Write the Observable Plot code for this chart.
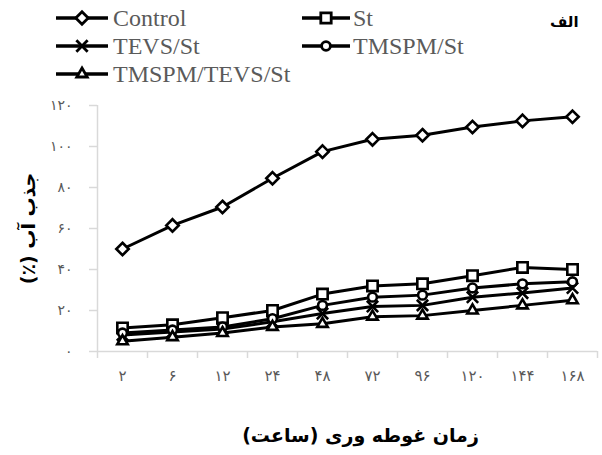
<!DOCTYPE html>
<html><head><meta charset="utf-8">
<script src="https://cdn.jsdelivr.net/npm/d3@7"></script>
<script src="https://cdn.jsdelivr.net/npm/@observablehq/plot@0.6"></script>
<style>
body{margin:0;background:#fff;}
#wrap{position:relative;width:602px;height:455px;overflow:hidden;}
#legend{position:relative;width:602px;height:90px;}
.ltxt{position:absolute;font-family:"Liberation Serif",serif;font-size:24px;color:#5a5a5a;line-height:1;white-space:nowrap;}
.lsym{position:absolute;}
#alef{position:absolute;left:550px;top:13px;font-family:"DejaVu Sans";font-weight:bold;font-size:15px;color:#000;}
</style></head><body>
<div id="wrap"><div id="legend"></div><div id="chart"></div></div>
<script>
const categories = ["۲","۶","۱۲","۲۴","۴۸","۷۲","۹۶","۱۲۰","۱۴۴","۱۶۸"];
const seriesNames = ["Control","St","TEVS/St","TMSPM/St","TMSPM/TEVS/St"];
const control     = [50, 61.5, 70.5, 84.5, 97.5, 103.5, 105.5, 109.5, 112.5, 114.5];
const st          = [11.5, 13, 16.5, 20, 28, 32, 33, 37, 41, 40];
const tevsSt      = [8, 9.5, 11, 14.5, 18.5, 22, 22.5, 26.5, 28.5, 31];
const tmspmSt     = [9, 10.5, 12, 16, 22.5, 26.5, 27.5, 31, 33, 34];
const tmspmTevsSt = [5, 7, 9, 12, 13.5, 17, 17.5, 20, 22.5, 25];
const yTicks = [0, 20, 40, 60, 80, 100, 120];
const yTickLabels = ["۰","۲۰","۴۰","۶۰","۸۰","۱۰۰","۱۲۰"];
const xTitle = "زمان غوطه وری (ساعت)\u200F";
const yTitle = "جذب آب (٪)\u200F";
const panelLabel = "الف";

const seriesValues = [control, st, tevsSt, tmspmSt, tmspmTevsSt];
const symbols = ["diamond2", "square2", "times", "circle", "triangle2"];
const radii = [5.6, 6.6, 5.2, 4.4, 5.0];
const d3sym = {diamond2: d3.symbolDiamond2, square2: d3.symbolSquare2, times: d3.symbolTimes, circle: d3.symbolCircle, triangle2: d3.symbolTriangle2};

const rows = [];
seriesNames.forEach((s, k) => seriesValues[k].forEach((v, i) => rows.push({series: s, i, v})));

// Legend
const legend = document.getElementById("legend");
const legPos = [
  {lx: 55, w: 54, y: 18, tx: 113},
  {lx: 301, w: 50, y: 18, tx: 353},
  {lx: 55, w: 54, y: 46, tx: 113},
  {lx: 301, w: 50, y: 46, tx: 353},
  {lx: 55, w: 54, y: 74, tx: 113}
];
seriesNames.forEach((s, k) => {
  const p = legPos[k];
  const ns = "http://www.w3.org/2000/svg";
  const svg = document.createElementNS(ns, "svg");
  svg.setAttribute("width", p.w); svg.setAttribute("height", 24);
  svg.setAttribute("class", "lsym");
  svg.style.left = p.lx + "px"; svg.style.top = (p.y - 12) + "px";
  const line = document.createElementNS(ns, "line");
  line.setAttribute("x1", 1); line.setAttribute("x2", p.w - 1);
  line.setAttribute("y1", 12); line.setAttribute("y2", 12);
  line.setAttribute("stroke", "black"); line.setAttribute("stroke-width", 3.5);
  svg.appendChild(line);
  const path = document.createElementNS(ns, "path");
  path.setAttribute("d", d3.symbol(d3sym[symbols[k]], Math.PI * radii[k] * radii[k])());
  path.setAttribute("transform", `translate(${p.w / 2},12)`);
  path.setAttribute("fill", "white"); path.setAttribute("stroke", "black"); path.setAttribute("stroke-width", 2.8);
  svg.appendChild(path);
  legend.appendChild(svg);
  const t = document.createElement("div");
  t.className = "ltxt"; t.textContent = s;
  t.style.left = p.tx + "px"; t.style.top = (p.y - 12) + "px";
  legend.appendChild(t);
});
const al = document.createElement("div");
al.id = "alef"; al.dir = "rtl"; al.textContent = panelLabel;
legend.appendChild(al);

const boundaries = d3.range(-0.5, 10, 1);
const axisColor = "#d9d9d9";
const textColor = "#595959";

const dotMarks = seriesNames.map((s, k) =>
  Plot.dot(rows.filter(d => d.series === s), {x: "i", y: "v", symbol: () => symbols[k], r: radii[k], fill: "white", stroke: "black", strokeWidth: 2.6})
);

const chart = Plot.plot({
  width: 602, height: 365,
  marginTop: 15, marginBottom: 104, marginLeft: 97, marginRight: 5,
  x: {domain: [-0.5, 9.5], axis: null},
  y: {domain: [0, 120], axis: null},
  symbol: {type: "identity"},
  marks: [
    Plot.axisY({ticks: yTicks, tickSize: 8, tickPadding: 17, tickFormat: d => yTickLabels[yTicks.indexOf(d)], stroke: axisColor, strokeWidth: 1.5, fill: textColor, fontSize: 14, fontFamily: "DejaVu Sans", label: null}),
    Plot.axisX({ticks: boundaries, tickSize: 7, tickFormat: () => "", stroke: axisColor, strokeWidth: 1.5, label: null}),
    Plot.axisX({ticks: d3.range(categories.length), tickSize: 0, tickPadding: 19, tickFormat: i => categories[i], fill: textColor, fontSize: 15, fontFamily: "DejaVu Sans", label: null}),
    Plot.ruleX([-0.5], {y1: 0, y2: 120, stroke: axisColor, strokeWidth: 1.5}),
    Plot.ruleY([0], {x1: -0.5, x2: 9.5, stroke: axisColor, strokeWidth: 1.5}),
    Plot.line(rows, {x: "i", y: "v", z: "series", stroke: "black", strokeWidth: 3}),
    ...dotMarks,
    Plot.text([yTitle], {frameAnchor: "left", textAnchor: "middle", dx: -69, rotate: -90, fontSize: 19, fontWeight: "bold", fill: "black", fontFamily: "DejaVu Sans", lineAnchor: "middle"}),
    Plot.text([xTitle], {frameAnchor: "bottom", textAnchor: "middle", dx: 13, dy: 84, fontSize: 19, fontWeight: "bold", fill: "black", fontFamily: "DejaVu Sans", lineAnchor: "middle"})
  ]
});
document.getElementById("chart").appendChild(chart);
</script>
</body></html>
